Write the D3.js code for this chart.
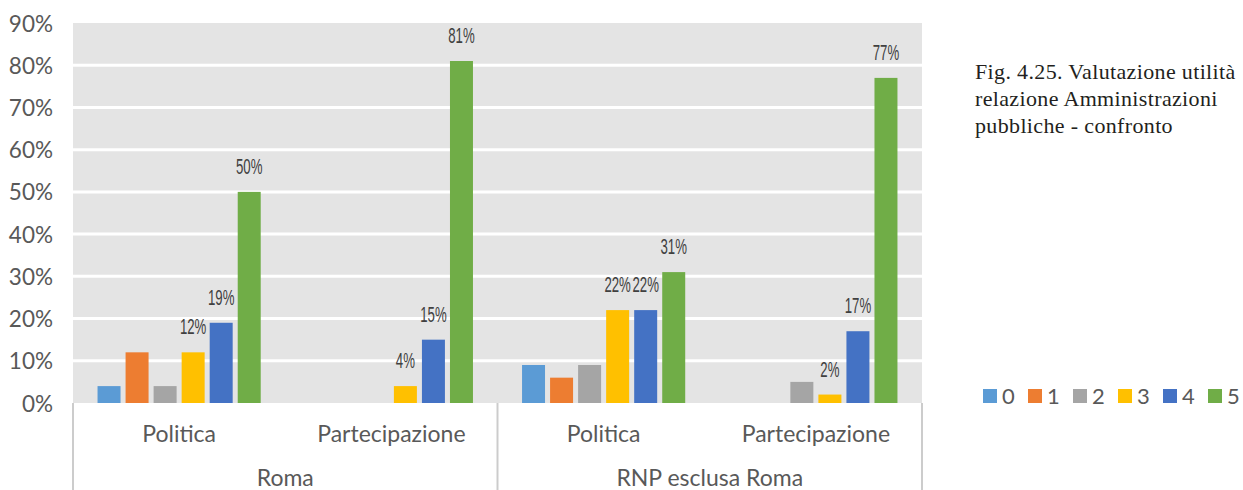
<!DOCTYPE html>
<html><head><meta charset="utf-8">
<script src="https://cdn.jsdelivr.net/npm/d3@7"></script>
<style>body{margin:0;background:#fff}svg{display:block}</style>
</head><body><svg id="c" width="1243" height="490"></svg>
<script>
const regions = ["Roma", "RNP esclusa Roma"];
const topics = ["Politica", "Partecipazione"];
const seriesNames = ["0", "1", "2", "3", "4", "5"];
const colors = ["#5B9BD5", "#ED7D31", "#A5A5A5", "#FFC000", "#4472C4", "#70AD47"];
// values per series (percent), groups: Roma-Politica, Roma-Partecipazione, RNP-Politica, RNP-Partecipazione
const s0 = [4, 0, 9, 0];
const s1 = [12, 0, 6, 0];
const s2 = [4, 0, 9, 5];
const s3 = [12, 4, 22, 2];
const s4 = [19, 15, 22, 17];
const s5 = [50, 81, 31, 77];
const labeledSeries = ["3", "4", "5"];
const yTicks = [0, 10, 20, 30, 40, 50, 60, 70, 80, 90];
const title = ["Fig. 4.25. Valutazione utilità", "relazione Amministrazioni", "pubbliche - confronto"];

const series = [s0, s1, s2, s3, s4, s5];
const groups = [];
regions.forEach(r => topics.forEach(t => groups.push(r + "|" + t)));

const FONT = "Lato, 'Open Sans', sans-serif";
const svg = d3.select("#c");
const L = 73, R = 922, T = 23, B = 403;
const x = d3.scaleBand().domain(groups).range([L, R]).padding(0);
const xr = d3.scaleBand().domain(regions).range([L, R]).padding(0);
const xi = d3.scaleBand().domain(seriesNames).range([0, x.bandwidth()]).paddingInner(0.18).paddingOuter(0.875);
const y = d3.scaleLinear().domain([0, 90]).range([B, T]);

svg.append("rect").attr("x", L).attr("y", T).attr("width", R - L).attr("height", B - T).attr("fill", "#e4e4e4");
svg.append("g").selectAll("line").data(yTicks.filter(d => d > 0 && d < 90)).join("line")
  .attr("x1", L).attr("x2", R).attr("y1", d => y(d)).attr("y2", d => y(d))
  .attr("stroke", "#fff").attr("stroke-width", 3);

// y axis labels
const yAxis = d3.axisLeft(y).tickValues(yTicks).tickFormat(d => d + "%").tickSize(0).tickPadding(0);
const ya = svg.append("g").attr("transform", `translate(53,0)`).call(yAxis);
ya.select(".domain").remove();
ya.selectAll("text").attr("font-family", FONT).attr("font-size", 22.5).attr("fill", "#595959").attr("dy", "0.36em");

// bars
const bars = [];
groups.forEach((g, gi) => seriesNames.forEach((s, si) => bars.push({g, s, si, v: series[si][gi]})));
svg.append("g").selectAll("rect").data(bars.filter(d => d.v > 0)).join("rect")
  .attr("x", d => x(d.g) + xi(d.s)).attr("width", xi.bandwidth())
  .attr("y", d => y(d.v)).attr("height", d => B - y(d.v)).attr("fill", d => colors[d.si]);

// data labels
svg.append("g").selectAll("text").data(bars.filter(d => d.v > 0 && labeledSeries.includes(d.s))).join("text")
  .attr("transform", d => `translate(${x(d.g) + xi(d.s) + xi.bandwidth() / 2},${y(d.v) - 18}) scale(0.6,1)`)
  .attr("text-anchor", "middle").attr("font-family", "'Liberation Sans Narrow', 'Liberation Sans', sans-serif")
  .attr("font-size", 22).attr("fill", "#404040")
  .text(d => d.v + "%");

// category axis separators
const sepXs = [L, xr("RNP esclusa Roma"), R];
svg.append("g").selectAll("line").data(sepXs).join("line")
  .attr("x1", d => d).attr("x2", d => d).attr("y1", B).attr("y2", 490)
  .attr("stroke", "#cccccc").attr("stroke-width", 2);

svg.append("g").selectAll("text").data(groups).join("text")
  .attr("x", d => x(d) + x.bandwidth() / 2).attr("y", 442).attr("text-anchor", "middle")
  .attr("font-family", FONT).attr("font-size", 23).attr("fill", "#595959")
  .text(d => d.split("|")[1]);
svg.append("g").selectAll("text").data(regions).join("text")
  .attr("x", d => xr(d) + xr.bandwidth() / 2).attr("y", 486).attr("text-anchor", "middle")
  .attr("font-family", FONT).attr("font-size", 23).attr("fill", "#595959")
  .text(d => d);

// title
svg.append("g").selectAll("text").data(title).join("text")
  .attr("x", 975).attr("y", (d, i) => 79 + i * 27)
  .attr("font-family", "'Liberation Serif', 'DejaVu Serif', serif").attr("font-size", 22).attr("letter-spacing", 0.35)
  .attr("fill", "#231f20")
  .text(d => d);

// legend
const lg = svg.append("g").selectAll("g").data(seriesNames).join("g")
  .attr("transform", (d, i) => `translate(${983 + i * 45},389)`);
lg.append("rect").attr("width", 14).attr("height", 14).attr("fill", (d, i) => colors[i]);
lg.append("text").attr("x", 19).attr("y", 14.5).attr("font-family", FONT)
  .attr("font-size", 22).attr("fill", "#595959").text(d => d);
</script></body></html>
